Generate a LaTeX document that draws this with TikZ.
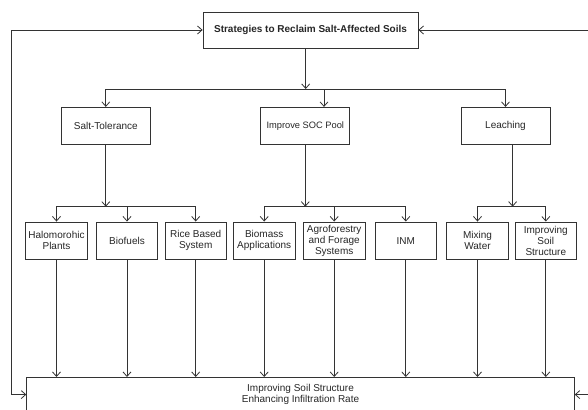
\documentclass[tikz,border=0pt]{standalone}
\usepackage{fontspec}
\setmainfont{Liberation Sans}
\usetikzlibrary{arrows.meta}
\tikzset{
  box/.style={draw=black!80,line width=0.8pt,inner sep=2pt,align=center,
    text=black!85,font=\fontsize{10}{11}\selectfont},
  goalbox/.style={box,minimum width=215pt,minimum height=36pt,
    font=\fontsize{10}{11}\selectfont\bfseries},
  catbox/.style={box,minimum width=89pt,minimum height=37pt},
  leafbox/.style={box,minimum width=61.6pt,minimum height=37.5pt},
  outbox/.style={box,minimum width=547.6pt,inner ysep=7pt},
}

\begin{document}
\begin{tikzpicture}[x=1pt,y=-1pt,line width=0.8pt,draw=black!80,
  >={Straight Barb[length=4.5pt,width=8pt]}]
\useasboundingbox (0,0) rectangle (588,409);

% Goal
\node[goalbox] (goal) at (310.5,30) {Strategies to Reclaim Salt-Affected Soils};

% Strategies
\node[catbox] (salt) at (105.8,125.8) {Salt-Tolerance};
\node[catbox,font=\fontsize{9.3}{11}\selectfont] (soc) at (305.3,125.8) {Improve SOC Pool};
\node[catbox] (leach) at (505.5,125.8) {Leaching};

% Practices
\node[leafbox] (halo) at (56.5,240.7) {Halomorohic\\Plants};
\node[leafbox] (bio) at (127,240.7) {Biofuels};
\node[leafbox] (rice) at (195.7,240.7) {Rice Based\\System};
\node[leafbox] (biomass) at (264.2,240.7) {Biomass\\Applications};
\node[leafbox] (agro) at (334.2,240.7) {Agroforestry\\and Forage\\Systems};
\node[leafbox] (inm) at (405.8,240.7) {INM};
\node[leafbox] (mix) at (477.5,240.7) {Mixing\\Water};
\node[leafbox] (soil) at (545.8,240.7) {Improving\\Soil\\Structure};

% Outcome (runs off the bottom)
\node[outbox,anchor=north] (outcome) at (300.5,377) {Improving Soil Structure\\Enhancing Infiltration Rate};

% Goal -> strategies
\coordinate (hub) at (305.7,89);
\draw[->] (goal.south -| hub) -- (hub);
\draw[->] (hub) -| (salt);
\draw[->] (hub) -| ([xshift=18.7pt]soc.north);
\draw[->] (hub) -| (leach);

% Strategies -> practices
\coordinate (hubA) at (salt.south |- 0,206.7);
\draw[->] (salt) -- (hubA);
\foreach \n in {halo,bio,rice} \draw[->] (hubA) -| (\n);
\coordinate (hubB) at (soc.south |- 0,206.7);
\draw[->] (soc) -- (hubB);
\foreach \n in {biomass,agro,inm} \draw[->] (hubB) -| (\n);
\coordinate (hubC) at (512.6,206.7);
\draw[->] (leach.south -| hubC) -- (hubC);
\foreach \n in {mix,soil} \draw[->] (hubC) -| (\n);

% Practices -> outcome
\foreach \n in {halo,bio,rice,biomass,agro,inm,mix,soil}
  \draw[->] (\n) -- (\n |- outcome.north);

% Feedback loops
\draw[<->] (goal.west) -- (11.3,30) |- (outcome.west);
\coordinate (backT) at (588,30);
\coordinate (backB) at (outcome.east -| 588,0);
\draw[->] (backT) -- (goal.east);
\draw[->] (backB) -- (outcome.east);
\end{tikzpicture}
\end{document}
